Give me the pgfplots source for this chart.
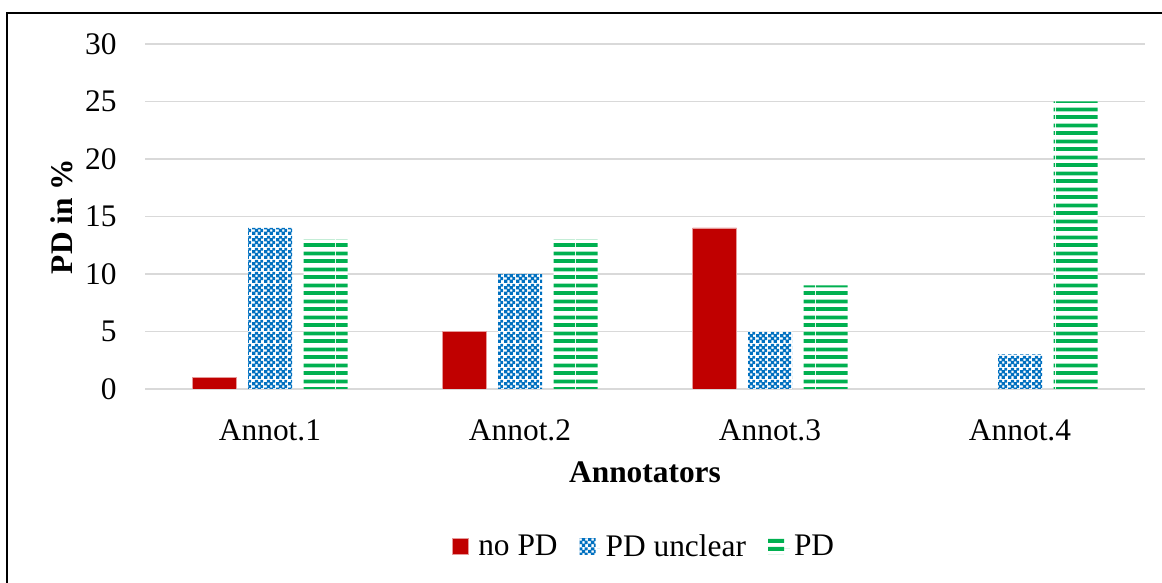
\documentclass[border=0pt]{standalone}
\usepackage{fontspec}
\setmainfont{Liberation Serif}
\usepackage{pgfplots}
\pgfplotsset{compat=1.18}
\usetikzlibrary{patterns}
\definecolor{pdred}{HTML}{C00000}
\definecolor{pdblue}{HTML}{0070C0}
\definecolor{pdgreen}{HTML}{00B050}
\definecolor{gridgray}{HTML}{D9D9D9}
\pgfdeclarepatternformonly{hstripes}{\pgfpointorigin}{\pgfpoint{24pt}{8pt}}{\pgfpoint{24pt}{8pt}}{%
  \pgfpathrectangle{\pgfpointorigin}{\pgfpoint{24pt}{2pt}}%
  \pgfpathrectangle{\pgfpoint{0pt}{4pt}}{\pgfpoint{24pt}{2pt}}\pgfusepath{fill}}
\pgfdeclarepatternformonly{checker}{\pgfpointorigin}{\pgfpoint{6pt}{6pt}}{\pgfpoint{6pt}{6pt}}{%
  \pgfpathrectangle{\pgfpoint{0pt}{0pt}}{\pgfpoint{1.8pt}{1.8pt}}%
  \pgfpathrectangle{\pgfpoint{3pt}{0pt}}{\pgfpoint{1.8pt}{1.8pt}}%
  \pgfpathrectangle{\pgfpoint{1.5pt}{1.5pt}}{\pgfpoint{1.8pt}{1.8pt}}%
  \pgfpathrectangle{\pgfpoint{4.5pt}{1.5pt}}{\pgfpoint{1.5pt}{1.8pt}}%
  \pgfpathrectangle{\pgfpoint{0pt}{3pt}}{\pgfpoint{1.8pt}{1.8pt}}%
  \pgfpathrectangle{\pgfpoint{3pt}{3pt}}{\pgfpoint{1.8pt}{1.8pt}}%
  \pgfpathrectangle{\pgfpoint{1.5pt}{4.5pt}}{\pgfpoint{1.8pt}{1.5pt}}%
  \pgfpathrectangle{\pgfpoint{4.5pt}{4.5pt}}{\pgfpoint{1.5pt}{1.5pt}}%
  \pgfusepath{fill}}
\begin{document}
\fontsize{15.7}{18}\selectfont
\begin{tikzpicture}
\useasboundingbox (0,0) rectangle (581pt,291.5pt);
\draw[line width=1pt] (3.5pt,0) -- (3.5pt,285pt) -- (581pt,285pt);
\begin{axis}[
  at={(72.5pt,97pt)}, anchor=south west,
  scale only axis, width=500pt, height=172.5pt,
  xmin=-0.5, xmax=3.5, ymin=0, ymax=30,
  ytick={0,5,...,30},
  xtick={0,1,2,3},
  xticklabels={Annot.1,Annot.2,Annot.3,Annot.4},
  ybar=5.75pt, bar width=22pt,
  axis line style={draw=none},
  major tick length=0pt,
  ymajorgrids, grid style={gridgray, line width=0.75pt},
  /pgf/number format/assume math mode=true,
  tick label style={font=\fontsize{15.7}{18}\selectfont},
  yticklabel style={anchor=east, inner sep=0pt, xshift=-14pt},
  xticklabel style={anchor=center, inner sep=0pt, yshift=-20.5pt},
  xlabel={\textbf{Annotators}},
  ylabel={\textbf{PD in \%}},
  label style={font=\fontsize{15.7}{18}\selectfont},
  xlabel style={at={(0.5,0)}, anchor=center, yshift=-41.5pt},
  ylabel style={at={(0,0.5)}, anchor=center, yshift=41.5pt},
  legend columns=-1,
  legend style={at={(0.5,0)}, anchor=center, yshift=-79.5pt, draw=none,
    font=\fontsize{15.7}{18}\selectfont, column sep=0pt,
    /tikz/every even column/.append style={column sep=9pt}},
  legend image code/.code={\path[#1] (0pt,-3pt) rectangle (8pt,5pt); \path[draw=none, fill=none] (0pt,0pt) -- (11pt,0pt);},
]
\addplot[draw=pdred!40, line width=0.4pt, fill=pdred] coordinates {(0,1) (1,5) (2,14)};
\addplot[draw=none, fill=white, postaction={pattern=checker, pattern color=pdblue}] coordinates {(0,14) (1,10) (2,5) (3,3)};
\addplot[draw=none, fill=white, postaction={pattern=hstripes, pattern color=pdgreen}] coordinates {(0,13) (1,13) (2,9) (3,25)};
\legend{no PD, PD unclear, PD}
\end{axis}
\end{tikzpicture}
\end{document}
